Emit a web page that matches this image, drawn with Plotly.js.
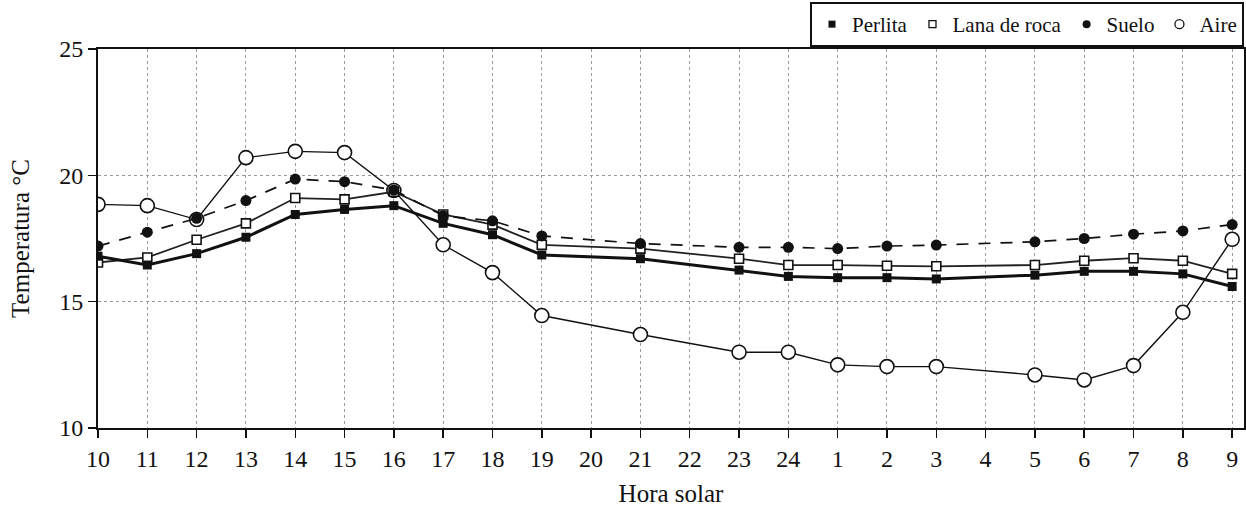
<!DOCTYPE html>
<html>
<head>
<meta charset="utf-8">
<script src="https://cdn.plot.ly/plotly-3.0.1.min.js"></script>
<style>html,body{margin:0;padding:0;background:#fff;}#chart{width:1246px;height:507px;}</style>
</head>
<body>
<div id="chart"></div>
<script>
// Hora solar categories
const horas = ['10','11','12','13','14','15','16','17','18','19','20','21','22','23','24','1','2','3','4','5','6','7','8','9'];
// Temperatura °C (null = no measurement at that hour)
const perlita   = [16.8, 16.45, 16.9, 17.55, 18.45, 18.65, 18.8, 18.1, 17.65, 16.85, null, 16.7, null, 16.25, 16.0, 15.95, 15.95, 15.9, null, 16.05, 16.2, 16.2, 16.1, 15.6];
const lanaRoca  = [16.55, 16.75, 17.45, 18.1, 19.1, 19.05, 19.35, 18.45, 18.05, 17.25, null, 17.1, null, 16.7, 16.45, 16.45, 16.42, 16.4, null, 16.45, 16.62, 16.72, 16.62, 16.1];
const suelo     = [17.2, 17.75, 18.3, 19.0, 19.85, 19.75, 19.42, 18.4, 18.2, 17.6, null, 17.3, null, 17.15, 17.15, 17.1, 17.2, 17.24, null, 17.37, 17.5, 17.67, 17.8, 18.05];
const aire      = [18.85, 18.8, 18.25, 20.7, 20.95, 20.9, 19.4, 17.25, 16.15, 14.45, null, 13.7, null, 13.0, 13.0, 12.5, 12.43, 12.43, null, 12.1, 11.9, 12.47, 14.58, 17.47];
const serieNames = ['Perlita', 'Lana de roca', 'Suelo', 'Aire'];

const font = 'Liberation Serif, Times New Roman, serif';

const traces = [
  {x: horas, y: aire, type: 'scatter', mode: 'lines+markers', connectgaps: true, showlegend: false,
   line: {color: '#111', width: 1.4},
   marker: {symbol: 'circle', size: 14, color: '#fff', line: {color: '#111', width: 1.6}}},
  {x: horas, y: lanaRoca, type: 'scatter', mode: 'lines+markers', connectgaps: true, showlegend: false,
   line: {color: '#222', width: 1.8},
   marker: {symbol: 'square', size: 9, color: '#fff', line: {color: '#111', width: 1.6}}},
  {x: horas, y: perlita, type: 'scatter', mode: 'lines+markers', connectgaps: true, showlegend: false,
   line: {color: '#111', width: 3},
   marker: {symbol: 'square', size: 9, color: '#111'}},
  {x: horas, y: suelo, type: 'scatter', mode: 'lines+markers', connectgaps: true, showlegend: false,
   line: {color: '#111', width: 1.7, dash: '12px,10px'},
   marker: {symbol: 'circle', size: 11, color: '#111'}},
  // legend entries (marker only, as in the original key)
  {x: [null], y: [null], type: 'scatter', mode: 'markers', name: serieNames[0], marker: {symbol: 'square', size: 7, color: '#111'}},
  {x: [null], y: [null], type: 'scatter', mode: 'markers', name: serieNames[1], marker: {symbol: 'square', size: 7, color: '#fff', line: {color: '#111', width: 1.3}}},
  {x: [null], y: [null], type: 'scatter', mode: 'markers', name: serieNames[2], marker: {symbol: 'circle', size: 8, color: '#111'}},
  {x: [null], y: [null], type: 'scatter', mode: 'markers', name: serieNames[3], marker: {symbol: 'circle', size: 9, color: '#fff', line: {color: '#111', width: 1.3}}}
];

const layout = {
  width: 1246, height: 507,
  margin: {l: 98, r: 2, t: 49, b: 79},
  paper_bgcolor: '#fff', plot_bgcolor: '#fff',
  font: {family: font, color: '#111', size: 24},
  xaxis: {
    type: 'category', categoryorder: 'array', categoryarray: horas,
    range: [0, 23.24],
    showline: true, linecolor: '#111', linewidth: 2, mirror: true,
    ticks: 'outside', ticklen: 8, tickwidth: 1.5, tickcolor: '#111',
    showgrid: true, gridcolor: '#9a9a9a', gridwidth: 1, griddash: 'dot',
    tickfont: {family: font, size: 24, color: '#111'},
    title: {text: 'Hora solar', font: {family: font, size: 25, color: '#111'}, standoff: 16},
    automargin: false, zeroline: false, fixedrange: true
  },
  yaxis: {
    range: [10, 25], dtick: 5, tick0: 10,
    showline: true, linecolor: '#111', linewidth: 2, mirror: true,
    ticks: 'outside', ticklen: 8, tickwidth: 1.5, tickcolor: '#111',
    showgrid: true, gridcolor: '#9a9a9a', gridwidth: 1, griddash: 'dot',
    tickfont: {family: font, size: 24, color: '#111'},
    title: {text: 'Temperatura °C', font: {family: font, size: 25, color: '#111'}, standoff: 22},
    automargin: false, zeroline: false, fixedrange: true
  },
  legend: {
    orientation: 'h', x: 1, xanchor: 'right', xref: 'paper',
    y: 1 - 2 / 507, yanchor: 'top', yref: 'container',
    bordercolor: '#111', borderwidth: 2, bgcolor: '#fff',
    font: {family: font, size: 21, color: '#111'},
    itemwidth: 30, tracegroupgap: 0, traceorder: 'normal'
  },
  showlegend: true
};

Plotly.newPlot('chart', traces, layout, {displayModeBar: false, staticPlot: true});
</script>
</body>
</html>
